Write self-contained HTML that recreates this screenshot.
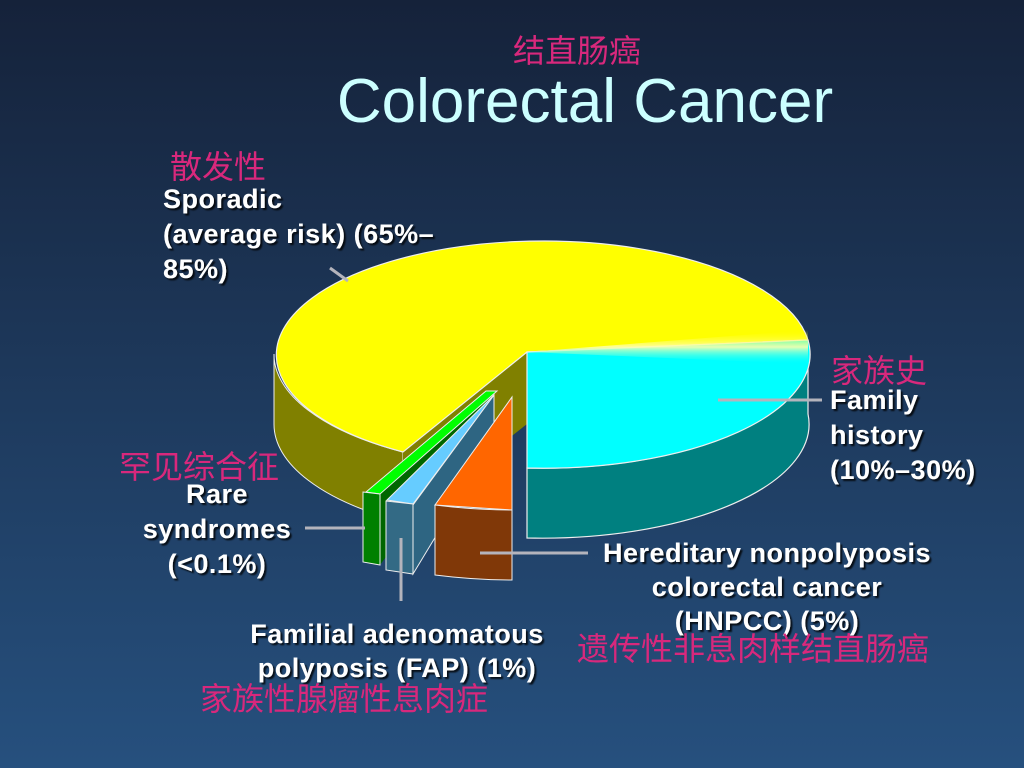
<!DOCTYPE html>
<html><head><meta charset="utf-8"><style>
html,body{margin:0;padding:0;width:1024px;height:768px;overflow:hidden}
svg{display:block}
.w{font-family:"Liberation Sans",Arial,sans-serif;font-weight:bold;font-size:27px;letter-spacing:0.5px;fill:#fff;}
.p{font-family:"Liberation Sans","Noto Sans CJK SC",sans-serif;font-size:32px;fill:#d8287c;}
</style></head><body>
<svg width="1024" height="768" viewBox="0 0 1024 768" xmlns="http://www.w3.org/2000/svg">
<defs>
<linearGradient id="bg" x1="0" y1="0" x2="0" y2="1">
<stop offset="0" stop-color="#15223a"/><stop offset="1" stop-color="#26507e"/></linearGradient>
<linearGradient id="fade" x1="0" y1="0" x2="0" y2="1">
<stop offset="0" stop-color="#ffff00" stop-opacity="0"/><stop offset="0.5" stop-color="#ffffaa" stop-opacity="0.9"/><stop offset="1" stop-color="#00ffff" stop-opacity="0"/></linearGradient>
<filter id="sh"><feDropShadow dx="2" dy="2" stdDeviation="0.8" flood-color="#000" flood-opacity="0.8"/></filter>
</defs>
<rect width="1024" height="768" fill="url(#bg)"/>
<path d="M274,354 A267,114 0 0,0 403,452 L403,522 A267,114 0 0,1 274,424 Z" fill="#808000" stroke="#eee" stroke-width="1"/>
<polygon points="527,352 403,452 403,522 527,424" fill="#808000"/>
<path d="M527,352 L808,340 A267,114 0 1,0 403,452 Z" fill="#ffff00" stroke="#eee" stroke-width="1.2"/>
<path d="M808,344 L808,414 A267,114 0 0,1 527,538 L527,468 A267,114 0 0,0 808,344 Z" fill="#008080" stroke="#eee" stroke-width="1.2"/>
<path d="M527,352 L808,340 A267,114 0 0,1 527,468 Z" fill="#00ffff" stroke="#eee" stroke-width="1.2"/>
<polygon points="527,352 808,330 808,364" fill="url(#fade)"/>
<polygon points="380,494 492,396 492,412 380,565" fill="#006600"/>
<polygon points="486,391 497,391 380,494 366,492" fill="#00ff00" stroke="#eee" stroke-width="1"/>
<polygon points="363,492 380,494 380,565 363,562" fill="#008000" stroke="#eee" stroke-width="1"/>
<polygon points="413,505 494,395 494,440 413,574" fill="#2e6582" stroke="#eee" stroke-width="1"/>
<polygon points="387,500 494,395 413,504" fill="#66ccff" stroke="#eee" stroke-width="1"/>
<polygon points="386,501 413,504 413,574 386,570" fill="#336a85" stroke="#eee" stroke-width="1"/>
<polygon points="435,505 512,397 512,510" fill="#ff6600" stroke="#eee" stroke-width="1"/>
<path d="M435,505 Q474,510 512,510 L512,580 Q474,580 435,575 Z" fill="#803808" stroke="#eee" stroke-width="1"/>
<g stroke="#b4b4bc" stroke-width="3">
<line x1="330" y1="268" x2="348" y2="281"/>
<line x1="718" y1="400" x2="822" y2="400"/>
<line x1="305" y1="528" x2="365" y2="528"/>
<line x1="401" y1="538" x2="401" y2="601"/>
<line x1="480" y1="553" x2="588" y2="553"/>
</g>
<text x="577" y="62" text-anchor="middle" class="p">结直肠癌</text>
<text x="585" y="122" text-anchor="middle" font-family="Liberation Sans,Arial,sans-serif" font-size="62" fill="#ccffff">Colorectal Cancer</text>
<g filter="url(#sh)">
<text class="w" x="163" y="208">Sporadic</text>
<text class="w" x="163" y="243">(average risk) (65%–</text>
<text class="w" x="163" y="278">85%)</text>
<text class="w" x="830" y="409">Family</text>
<text class="w" x="830" y="444">history</text>
<text class="w" x="830" y="479">(10%–30%)</text>
<text class="w" x="217" y="503" text-anchor="middle">Rare</text>
<text class="w" x="217" y="538" text-anchor="middle">syndromes</text>
<text class="w" x="217" y="573" text-anchor="middle">(&lt;0.1%)</text>
<text class="w" x="767" y="562" text-anchor="middle">Hereditary nonpolyposis</text>
<text class="w" x="767" y="596" text-anchor="middle">colorectal cancer</text>
<text class="w" x="767" y="630" text-anchor="middle">(HNPCC) (5%)</text>
<text class="w" x="397" y="643" text-anchor="middle">Familial adenomatous</text>
<text class="w" x="397" y="677" text-anchor="middle">polyposis (FAP) (1%)</text>
</g>
<text class="p" x="170" y="178">散发性</text>
<text class="p" x="831" y="382">家族史</text>
<text class="p" x="119" y="478">罕见综合征</text>
<text class="p" x="577" y="660">遗传性非息肉样结直肠癌</text>
<text class="p" x="200" y="710">家族性腺瘤性息肉症</text>
</svg>
</body></html>
